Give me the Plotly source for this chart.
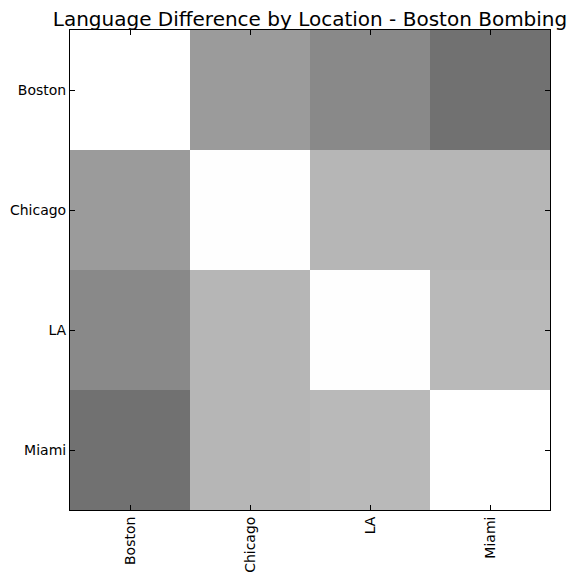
import plotly.graph_objects as go

locations = ["Boston", "Chicago", "LA", "Miami"]
# similarity shading values (1 = white, 0 = black), read from the grey levels
row_boston = [1.000, 0.608, 0.537, 0.443]
row_chicago = [0.608, 0.995, 0.714, 0.714]
row_la = [0.537, 0.714, 0.995, 0.725]
row_miami = [0.443, 0.714, 0.725, 1.000]
z = [row_boston, row_chicago, row_la, row_miami]

FONT = "DejaVu Sans"

fig = go.Figure(go.Heatmap(
    z=z,
    x=list(range(len(locations))),
    y=list(range(len(locations))),
    zmin=0, zmax=1,
    colorscale=[[0, "#000000"], [1, "#ffffff"]],
    showscale=False,
    hoverinfo="skip",
))

axis_common = dict(
    tickvals=list(range(len(locations))),
    ticktext=locations,
    ticks="inside",
    ticklen=5,
    tickwidth=1,
    tickcolor="black",
    showline=True,
    linecolor="black",
    linewidth=1,
    mirror="ticks",
    showgrid=False,
    zeroline=False,
    automargin=False,
    tickfont=dict(family=FONT, size=14, color="black"),
)

fig.update_xaxes(range=[-0.5, 3.5], tickangle=-90, **axis_common)
fig.update_yaxes(range=[3.5, -0.5], **axis_common)

W, H = 569, 573
fig.update_layout(
    template="none",
    width=W, height=H,
    margin=dict(l=62, r=27, t=22, b=71, autoexpand=False),
    paper_bgcolor="white",
    plot_bgcolor="white",
    title=dict(
        text="Language Difference by Location - Boston Bombing",
        font=dict(family=FONT, size=20, color="black"),
        x=(62 + 240) / W, xanchor="center",
        y=1 - 11 / H, yanchor="middle",
    ),
)

fig.write_html("out.html")
